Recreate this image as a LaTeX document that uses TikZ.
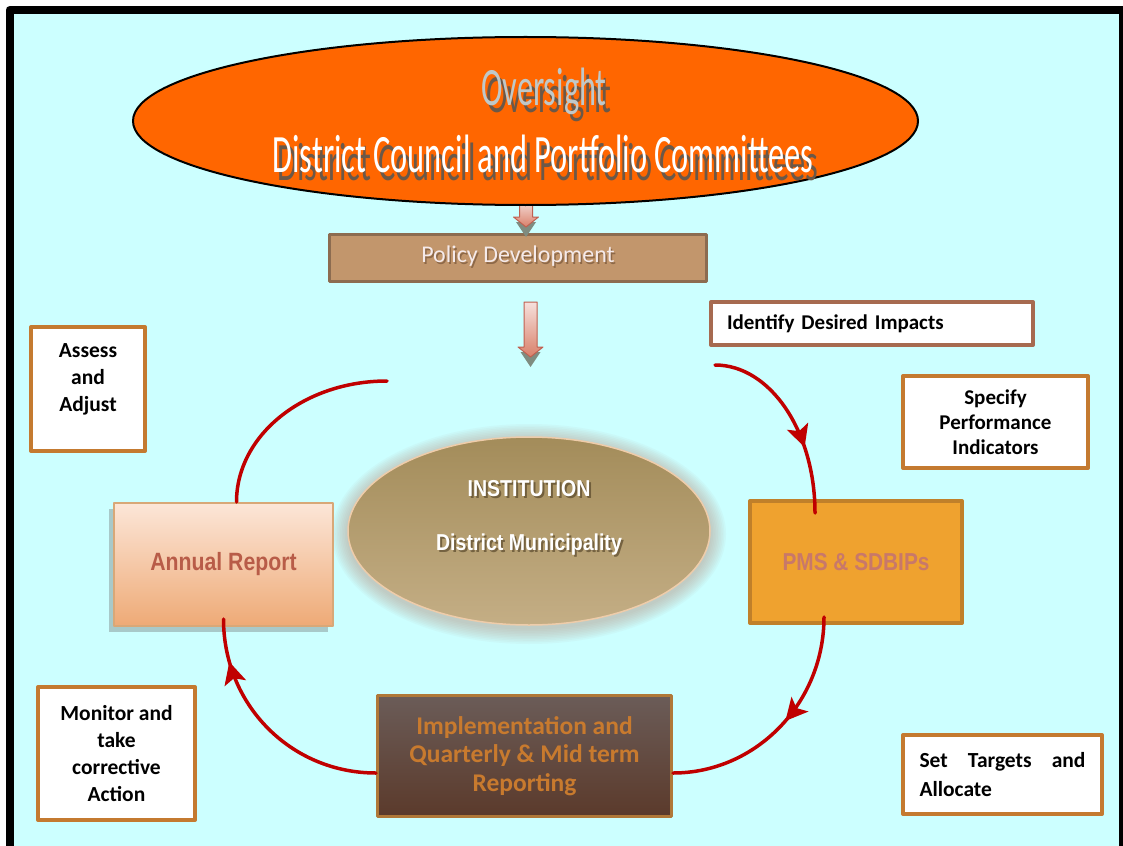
\documentclass[tikz,border=0pt]{standalone}
\usepackage{fontspec}
\setmainfont{Carlito}
\newfontfamily\titlefont{Carlito}[FakeStretch=0.6]
\newfontfamily\narrowbold{Liberation Sans}[FakeStretch=0.85]
\usetikzlibrary{arrows.meta,shapes.geometric,shadows,decorations.markings}
\definecolor{ccffff}{rgb}{0.8,1.0,1.0}
\definecolor{ffwwqq}{rgb}{1.0,0.4,0.0}
\definecolor{cqqqqq}{rgb}{0.7529,0.0,0.0}
\definecolor{cszwwc}{rgb}{0.7608,0.5882,0.4235}
\definecolor{ycwcvq}{rgb}{0.549,0.4235,0.3137}
\definecolor{awwavq}{rgb}{0.651,0.4157,0.3137}
\definecolor{cuxatq}{rgb}{0.7686,0.4784,0.1882}
\definecolor{atycva}{rgb}{0.6392,0.549,0.3529}
\definecolor{cuaeyv}{rgb}{0.7686,0.6824,0.5216}
\definecolor{byzyyy}{rgb}{0.7216,0.5961,0.5333}
\definecolor{eeccaa}{rgb}{0.9333,0.8,0.6667}
\definecolor{fcewdy}{rgb}{0.9882,0.902,0.8471}
\definecolor{eeaaxw}{rgb}{0.9333,0.6667,0.4627}
\definecolor{dyayxy}{rgb}{0.8471,0.6588,0.4706}
\definecolor{byvcuy}{rgb}{0.7216,0.3608,0.2824}
\definecolor{efassf}{rgb}{0.9373,0.6353,0.1843}
\definecolor{cqyqsa}{rgb}{0.7529,0.502,0.1647}
\definecolor{cyxywa}{rgb}{0.7843,0.4706,0.4157}
\definecolor{wbvcvy}{rgb}{0.4196,0.3608,0.3451}
\definecolor{vbtasb}{rgb}{0.3569,0.2275,0.1686}
\definecolor{bqxyty}{rgb}{0.6902,0.4706,0.2196}
\definecolor{cyxase}{rgb}{0.7843,0.4784,0.1804}
\definecolor{fweqdc}{rgb}{0.9647,0.8784,0.8627}
\definecolor{dzyqwa}{rgb}{0.851,0.502,0.4157}
\definecolor{cqwqvq}{rgb}{0.7529,0.3765,0.3137}
\definecolor{xfycyq}{rgb}{0.498,0.549,0.502}
\definecolor{cqcycy}{rgb}{0.7529,0.7843,0.7843}
\definecolor{wbvyuy}{rgb}{0.4196,0.3451,0.2824}
\definecolor{fveaea}{rgb}{0.9608,0.9176,0.9176}
\definecolor{wauatq}{rgb}{0.4157,0.2902,0.1882}
\definecolor{uatasq}{rgb}{0.2902,0.2275,0.1255}

\begin{document}
\begin{tikzpicture}[line cap=round,line join=round,x=1pt,y=-1pt,
box/.style={draw=cuxatq,line width=4pt,fill=white,inner sep=0pt},
boxtext/.style={align=center,font=\bfseries\fontsize{21.5}{27}\selectfont},
titletext/.style={anchor=base,font=\titlefont\fontsize{54}{60}\selectfont},
insttext/.style={font=\narrowbold\bfseries\fontsize{23}{27}\selectfont},
redline/.style={color=cqqqqq,line width=3.5pt},
tipat/.style={postaction={decorate},decoration={markings,mark=at position #1 with {\arrow{Stealth[length=22pt,width=22pt,inset=5pt]}}}},
pics/downblock/.style={code={
\fill[xfycyq] (-10,#1-5) -- (10,#1-5) -- (0,#1+10) -- cycle;
\draw[draw=cqwqvq,line width=1pt,top color=fweqdc,bottom color=dzyqwa] (-6.5,0) -- (6.5,0) -- (6.5,#1-10) -- (12.5,#1-10) -- (0,#1) -- (-12.5,#1-10) -- (-6.5,#1-10) -- cycle;
}}]
\useasboundingbox (0,0) rectangle (1123,845);
\clip (0,0) rectangle (1123,845);
\fill[white] (0,0) rectangle (1123,845);
\draw[line width=8pt,fill=ccffff] (9.5,10) rectangle (1123,880);
\node[draw=ycwcvq,line width=3pt,fill=cszwwc,minimum width=377pt,minimum height=47pt] (policy) at (518,258) {};
\node[text=wauatq,opacity=0.6,font=\fontsize{24}{28}\selectfont] (policyshadow) at (519.5,258.5) {Policy Development};
\node[text=fveaea,font=\fontsize{24}{28}\selectfont] (policytext) at (518,256) {Policy Development};
\pic (arrA) at (526,200) {downblock=27};
\node[ellipse,draw=black,line width=2pt,fill=ffwwqq,minimum width=785pt,minimum height=168pt] (council) at (525.5,121) {};
\node[titletext,text=wbvyuy] (oversightshadow) at (549,113) {Oversight};
\node[titletext,text=cqcycy] (oversight) at (544,106) {Oversight};
\node[titletext,text=wbvyuy] (councilshadow) at (548,180) {District Council and Portfolio Committees};
\node[titletext,text=white] (counciltext) at (543,172) {District Council and Portfolio Committees};
\pic (arrB) at (530.5,302) {downblock=55};
\foreach \g in {1,...,10} \fill[byzyyy,opacity=0.06] (529,534) ellipse ({181+1.6*\g} and {94+1.6*\g});
\node[ellipse,draw=eeccaa,line width=1.5pt,top color=atycva,bottom color=cuaeyv,minimum width=362pt,minimum height=188pt] (inst) at (529,531) {};
\node[insttext,text=uatasq,opacity=0.6] (instAshadow) at (531,491) {INSTITUTION};
\node[insttext,text=white] (instA) at (529,489) {INSTITUTION};
\node[insttext,text=uatasq,opacity=0.6] (instBshadow) at (531,547) {District Municipality};
\node[insttext,text=white] (instB) at (529,545) {District Municipality};
\node[draw=dyayxy,line width=2pt,top color=fcewdy,bottom color=eeaaxw,drop shadow={shadow xshift=-5pt,shadow yshift=-6pt,opacity=0.35,fill=black!60},minimum width=219pt,minimum height=123pt,text=byvcuy,font=\narrowbold\bfseries\fontsize{25}{30}\selectfont] (annual) at (223.5,564.5) {Annual Report};
\node[draw=cqyqsa,line width=4pt,fill=efassf,minimum width=212pt,minimum height=122pt,text=cyxywa,font=\narrowbold\bfseries\fontsize{24.5}{29}\selectfont] (pms) at (856,562) {PMS \& SDBIPs};
\node[draw=bqxyty,line width=3pt,top color=wbvcvy,bottom color=vbtasb,minimum width=294pt,minimum height=121pt,align=center,text=cyxase,font=\bfseries\fontsize{25.5}{28.5}\selectfont] (impl) at (524.5,756) {Implementation and\\Quarterly \& Mid term\\Reporting};
\node[box,draw=awwavq,minimum width=322pt,minimum height=43pt,text width=290pt,inner xsep=16pt,align=left,font=\bfseries\fontsize{21}{25}\selectfont] (identify) at (872,323.5) {Identify Desired Impacts};
\node[box,boxtext,minimum width=185pt,minimum height=92pt,font=\bfseries\fontsize{21}{25}\selectfont] (specify) at (995.5,422) {Specify\\Performance\\Indicators};
\node[box,minimum width=114pt,minimum height=124pt] (assess) at (88,389) {};
\node[boxtext] (assesstext) at (88,379) {Assess\\and\\Adjust};
\node[box,boxtext,minimum width=157pt,minimum height=133pt] (monitor) at (116.5,753.5) {Monitor and\\take\\corrective\\Action};
\node[box,align=left,text width=166pt,inner xsep=16.5pt,minimum width=199pt,minimum height=79pt,font=\bfseries\fontsize{21.5}{29}\selectfont] (settargets) at (1002.5,774.5) {Set\hfill Targets\hfill and\\Allocate};
\coordinate (idtail) at (715,365);
\coordinate (loopend) at (387,381);
\draw[redline,tipat=0.66] (idtail) .. controls +(55,0) and +(0,-82) .. ([xshift=-41pt,yshift=-14pt]pms.north);
\draw[redline,tipat=0.47] ([xshift=-32pt,yshift=8pt]pms.south) .. controls +(0,86) and +(83,0) .. ([yshift=-17pt]impl.east);
\draw[redline,tipat=0.82] ([yshift=-17pt]impl.west) .. controls +(-85,0) and +(0,86) .. ([yshift=8pt]annual.south);
\draw[redline] ([xshift=13pt]annual.north) .. controls +(0,-67) and +(-83,0) .. (loopend);
\end{tikzpicture}
\end{document}
